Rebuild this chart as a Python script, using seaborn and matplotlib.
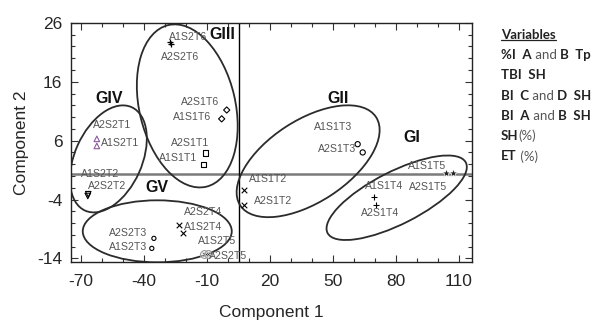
import numpy as np
import pandas as pd
import matplotlib
matplotlib.use('Agg')
import matplotlib.pyplot as plt
import seaborn as sns
from matplotlib.patches import Ellipse
from matplotlib.transforms import ScaledTranslation
from matplotlib.ticker import MultipleLocator

# PCA scores
names = ['A1S1T1', 'A2S1T1', 'A1S2T1', 'A2S2T1',
         'A1S1T2', 'A2S1T2', 'A1S2T2', 'A2S2T2',
         'A1S1T3', 'A2S1T3', 'A1S2T3', 'A2S2T3',
         'A1S1T4', 'A2S1T4', 'A1S2T4', 'A2S2T4',
         'A1S1T5', 'A2S1T5', 'A1S2T5', 'A2S2T5',
         'A1S1T6', 'A2S1T6', 'A1S2T6', 'A2S2T6']
comp1 = [-11.4, -10.5, -62.4, -62.4,
         7.6, 7.6, -66.5, -66.7,
         61.9, 64.3, -36.2, -35.2,
         69.5, 70.5, -21.4, -23.3,
         103.8, 107.1, -11.4, -9.5,
         -2.9, -0.5, -27.6, -27.1]
comp2 = [2.0, 3.9, 5.1, 6.3,
         -2.3, -5.0, -3.1, -3.4,
         5.4, 4.0, -12.3, -10.6,
         -3.6, -5.0, -9.7, -8.4,
         0.5, 0.5, -13.3, -13.3,
         9.7, 11.2, 22.8, 22.4]

# cluster ellipses
groups = ['GI', 'GII', 'GIII', 'GIV', 'GV']
group_cx = [80.5, 38.3, -19.3, -56.9, -33.6]
group_cy = [-3.7, 2.5, 11.9, 2.9, -9.4]
group_lx = [87.6, 52.4, -2.6, -56.7, -33.8]
group_ly = [6.6, 13.1, 24.0, 13.1, -1.9]

legend_rows = [
    [('%I  A', True), (' and ', False), ('B  Tp', True)],
    [('TBI  SH', True)],
    [('BI  C', True), (' and ', False), ('D  SH', True)],
    [('BI  A', True), (' and ', False), ('B  SH', True)],
    [('SH', True), ('(%)', False)],
    [('ET', True), (' (%)', False)],
]

# ellipse shapes in screen pixels (semi-axes, angle)
ell_a = [77.6, 81, 83, 56.7, 74.5]
ell_b = [26.2, 41, 48, 33.6, 31]
ell_ang = [27, 33, 103.2, 65.8, 0]

# label offsets in pixels (dx, dy)
offsets = {
    'A1S1T1': (-26, 6), 'A2S1T1': (-16, 10), 'A1S2T1': (23, 3), 'A2S2T1': (15, 14),
    'A1S1T2': (24, 11), 'A2S1T2': (29, 4), 'A1S2T2': (12, 20), 'A2S2T2': (19, 10),
    'A1S1T3': (-25, 17), 'A2S1T3': (-26, 3), 'A1S2T3': (-24, 1), 'A2S2T3': (-26, 5),
    'A1S1T4': (11, 11), 'A2S1T4': (4, -8), 'A1S2T4': (20, 6), 'A2S2T4': (24, 13),
    'A1S1T5': (-18, 7), 'A2S1T5': (-24, -14), 'A1S2T5': (13, 13), 'A2S2T5': (20, -2),
    'A1S1T6': (-30, 2), 'A2S1T6': (-27, 8), 'A1S2T6': (18, 5), 'A2S2T6': (9, -13),
}

markers = {
    'S1T1': dict(marker='s', s=14, facecolors='none', edgecolors='k', linewidths=0.8),
    'S2T1': dict(marker='^', s=16, facecolors='none', edgecolors='#8a5a9a', linewidths=0.8),
    'S1T2': dict(marker='x', s=16, color='k', linewidths=0.8),
    'S2T2': dict(marker='v', s=16, facecolors='none', edgecolors='k', linewidths=0.8),
    'S1T3': dict(marker='o', s=14, facecolors='none', edgecolors='k', linewidths=0.8),
    'S2T3': dict(marker='o', s=9, facecolors='none', edgecolors='k', linewidths=0.8),
    'S1T4': dict(marker='+', s=20, color='k', linewidths=0.8),
    'S2T4': dict(marker='x', s=16, color='k', linewidths=0.8),
    'S1T5': dict(marker='*', s=45, color='#222222', linewidths=0.5),
    'S2T5': dict(marker='$\\otimes$', s=40, color='#333333', linewidths=0.3),
    'S1T6': dict(marker='D', s=10, facecolors='none', edgecolors='k', linewidths=0.8),
    'S2T6': dict(marker='+', s=24, color='k', linewidths=0.9),
}

df = pd.DataFrame({'name': names, 'c1': comp1, 'c2': comp2})
df['grp'] = df['name'].str[2:]

sns.set_style('ticks')
plt.rcParams['font.family'] = ['Liberation Sans', 'DejaVu Sans']
plt.rcParams['axes.unicode_minus'] = False

fig = plt.figure(figsize=(6, 3.27), dpi=100)
ax = fig.add_axes([0.118, 0.199, 0.668, 0.731])

ax.axhline(0.4, color='#7a7a7a', lw=1.8, zorder=1)
ax.axvline(5.5, color='k', lw=1.0, zorder=1)

for grp, sub in df.groupby('grp'):
    sns.scatterplot(data=sub, x='c1', y='c2', ax=ax, legend=False, zorder=3, **markers[grp])

for _, r in df.iterrows():
    dx, dy = offsets[r['name']]
    ax.annotate(r['name'], (r['c1'], r['c2']), xytext=(dx, dy), textcoords='offset pixels',
                ha='center', va='center', fontsize=7.6, color='#555555', zorder=4)

ax.set_xlim(-74.8, 116.2)
ax.set_ylim(-14.6, 26)

for i, g in enumerate(groups):
    tr = fig.dpi_scale_trans + ScaledTranslation(group_cx[i], group_cy[i], ax.transData)
    e = Ellipse((0, 0), 2 * ell_a[i] / 100, 2 * ell_b[i] / 100, angle=ell_ang[i],
                transform=tr, fill=False, ec='#2b2b2b', lw=1.3, zorder=2)
    ax.add_patch(e)
    ax.text(group_lx[i], group_ly[i], g, fontsize=11.5, fontweight='bold',
            ha='center', va='center', color='#111111')

ax.set_xticks([-70, -40, -10, 20, 50, 80, 110])
ax.set_yticks([-14, -4, 6, 16, 26])
ax.xaxis.set_minor_locator(MultipleLocator(10))
ax.yaxis.set_minor_locator(MultipleLocator(2))
ax.tick_params(which='both', direction='in', top=True, right=True, width=0.8, color='#333333')
ax.tick_params(which='major', length=5, labelsize=12.5)
ax.tick_params(which='minor', length=3)
ax.tick_params(axis='x', pad=9)
ax.tick_params(axis='y', pad=6)
for sp in ax.spines.values():
    sp.set_color('#222222')
    sp.set_linewidth(1.0)

ax.set_xlabel('Component 1', fontsize=12.5, labelpad=11)
ax.set_ylabel('Component 2', fontsize=12.5, labelpad=6)

# variables key on the right, mixed bold/regular runs
fig.canvas.draw()
renderer = fig.canvas.get_renderer()
x0 = 501 / 600
lf = ['Lato', 'DejaVu Sans']
title = fig.text(x0, 1 - 35 / 327, 'Variables', fontsize=9.5, fontweight='bold',
                 family=lf, color='#222222', va='center')
bb = title.get_window_extent(renderer).transformed(fig.transFigure.inverted())
fig.add_artist(plt.Line2D([bb.x0, bb.x1], [bb.y0 + 0.004, bb.y0 + 0.004],
                          transform=fig.transFigure, color='#222222', lw=0.9))
for k, row in enumerate(legend_rows):
    y = 1 - (55 + 20.3 * k) / 327
    x = x0
    for txt, bold in row:
        t = fig.text(x, y, txt, fontsize=9.5, fontweight='bold' if bold else 'normal',
                     family=lf, color='#222222' if bold else '#555555', va='center')
        w = t.get_window_extent(renderer).width / fig.bbox.width
        x += w

fig.savefig('out.png', dpi=100)
